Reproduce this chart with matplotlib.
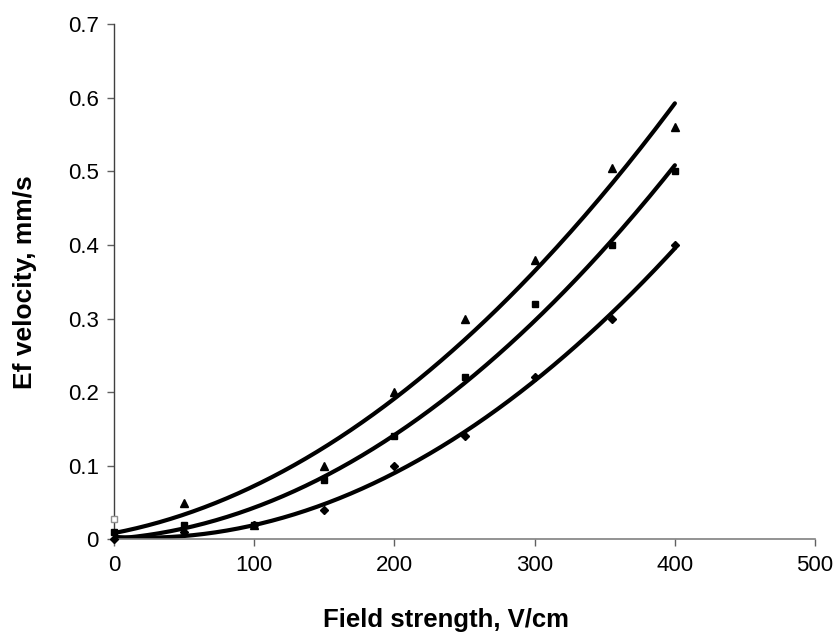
"""Ef velocity vs field strength: three series with quadratic trend lines."""

import numpy as np
import matplotlib
matplotlib.use("Agg")
import matplotlib.pyplot as plt

plt.rcParams["font.family"] = ["Liberation Sans", "DejaVu Sans"]

# data (x=100 triangle sits under the square)
tri_x = [0, 50, 100, 150, 200, 250, 300, 355, 400]
tri_y = [0.028, 0.05, 0.02, 0.10, 0.20, 0.30, 0.38, 0.505, 0.56]

sq_x = [0, 50, 100, 150, 200, 250, 300, 355, 400]
sq_y = [0.01, 0.02, 0.02, 0.08, 0.14, 0.22, 0.32, 0.40, 0.50]

dia_x = [0, 50, 100, 150, 200, 250, 300, 355, 400]
dia_y = [0.0, 0.01, 0.02, 0.04, 0.10, 0.14, 0.22, 0.30, 0.40]

x_ticks = [0, 100, 200, 300, 400, 500]
y_ticks = [0, 0.1, 0.2, 0.3, 0.4, 0.5, 0.6, 0.7]


def _trend(x, y):
    """Second-order polynomial trend line, like the spreadsheet one."""
    coef = np.polyfit(x, y, 2)
    xs = np.linspace(0, max(x), 200)
    return xs, np.polyval(coef, xs)


fig = plt.figure(figsize=(8.36, 6.33), dpi=100)
ax = fig.add_axes([0.1364, 0.148, 0.975 - 0.1364, 0.9616 - 0.148])

series = [(tri_x, tri_y, "^", 5.5, 3), (sq_x, sq_y, "s", 5, 4), (dia_x, dia_y, "D", 4.5, 5)]
for x, y, m, ms, z in series:
    xs, ys = _trend(x, y)
    ax.plot(xs, ys, color="black", lw=3.0, solid_capstyle="round", zorder=2)
    # first triangle (x=0) shows up only as a faint hollow mark
    px, py = (x[1:], y[1:]) if m == "^" else (x, y)
    ax.plot(px, py, ls="none", marker=m, ms=ms, color="black",
            clip_on=False, zorder=z)
ax.plot(tri_x[:1], tri_y[:1], ls="none", marker="s", ms=5, mfc="white",
        mec="#909090", mew=1, clip_on=False, zorder=6)

ax.set_xlim(0, 500)
ax.set_ylim(0, 0.7)
ax.set_xticks(x_ticks)
ax.set_yticks(y_ticks)
ax.set_xticklabels([str(t) for t in x_ticks])
ax.set_yticklabels(["0"] + [f"{t:.1f}" for t in y_ticks[1:]])

for side in ("top", "right"):
    ax.spines[side].set_visible(False)
ax.spines["left"].set_color("#404040")
ax.spines["bottom"].set_color("#808080")
ax.spines["left"].set_linewidth(1.0)
ax.spines["bottom"].set_linewidth(1.2)
ax.tick_params(axis="both", direction="out", length=5, width=1,
               color="#606060", labelsize=16, pad=6)

# axis titles placed in figure pixels, as in the reference
fig.text(446 / 836, 1 - 620 / 633, "Field strength, V/cm", fontsize=18.5,
         fontweight="bold", ha="center", va="center")
fig.text(25 / 836, 1 - 282 / 633, "Ef velocity, mm/s", fontsize=19,
         fontweight="bold", ha="center", va="center", rotation=90)

fig.savefig("out.png", dpi=100)
